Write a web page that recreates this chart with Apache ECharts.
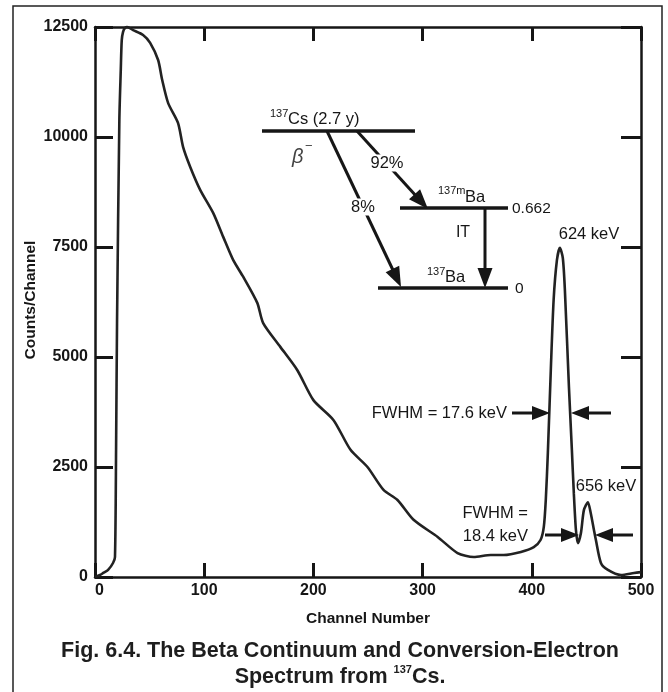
<!DOCTYPE html>
<html><head><meta charset="utf-8">
<script src="https://cdn.jsdelivr.net/npm/echarts@6/dist/echarts.min.js"></script>
<style>html,body{margin:0;padding:0;background:#fff}#c{width:668px;height:692px}</style>
</head><body><div id="c"></div>
<script>
// ---- data ----
const channel = [0,4.6,8,12,16.5,18.3,19.3,20.2,22.3,23.6,24.5,25.7,27.5,29.4,34.9,44,50.5,57.8,61.5,67,76,80.7,87.2,96.3,108.3,117.4,126.6,135.8,148.6,154,169.7,185.3,200,218.3,234,249.5,264.2,277,291.7,313.8,332,346.8,362.4,374.3,390,401.8,408,411,412.8,414.7,417.4,420,423,425.7,428.4,430.3,434,436.7,438.5,440.4,442.2,445,447.7,451.4,454,456.9,458.7,463.3,469.7,481.7,493.6,500];
const counts = [0,45,100,160,318,455,2890,5840,10390,11520,12200,12390,12480,12500,12430,12320,12140,11750,11300,10770,10320,9770,9320,8800,8270,7730,7200,6820,6230,5770,5230,4700,4020,3570,2890,2500,1980,1750,1300,910,545,455,500,500,570,680,840,1140,1750,2820,4700,6300,7200,7480,7250,6520,4320,2890,1900,1070,770,1000,1520,1700,1450,1070,840,320,160,45,90,110];
const xTicks = [0,100,200,300,400,500];
const yTicks = [0,2500,5000,7500,10000,12500];
const xTitle = 'Channel Number';
const yTitle = 'Counts/Channel';
const captionLine1 = 'Fig. 6.4. The Beta Continuum and Conversion-Electron';
const captionLine2 = ['Spectrum from ', '137', 'Cs.'];

const FONT = '"Liberation Sans", Arial, Helvetica, sans-serif';
const INK = '#161616';

const chart = echarts.init(document.getElementById('c'), null, {renderer:'canvas'});
const seriesData = channel.map((c,i)=>[c, counts[i]]);

const G = [];
function ln(x1,y1,x2,y2,w){ G.push({type:'line', shape:{x1:x1,y1:y1,x2:x2,y2:y2}, style:{stroke:INK, lineWidth:w||3}, z:100}); }
function arrow(x1,y1,x2,y2,w,hl,hw){
  hl = hl||18; hw = hw||14;
  const dx=x2-x1, dy=y2-y1, L=Math.hypot(dx,dy), ux=dx/L, uy=dy/L;
  const bx=x2-ux*hl, by=y2-uy*hl, nx=-uy, ny=ux;
  ln(x1,y1,bx+ux*2,by+uy*2,w||3);
  G.push({type:'polygon', shape:{points:[[x2,y2],[bx+nx*hw/2,by+ny*hw/2],[bx-nx*hw/2,by-ny*hw/2]]}, style:{fill:INK}, z:100});
}
function tx(t,x,y,size,o){
  o=o||{};
  G.push({type:'text', x:x, y:y, z:o.z||110, rotation:o.rot||0,
    style:{text:t, fontSize:size, fontFamily:FONT, fontWeight:o.w||'normal', fontStyle:o.it||'normal',
      fill:o.c||INK, align:o.a||'left', verticalAlign:o.va||'middle', textAlign:o.a||'left', textVerticalAlign:o.va||'middle',
      backgroundColor:o.bg, padding:o.pad, rich:o.rich}});
}

// outer frame
G.push({type:'rect', shape:{x:13,y:6,width:649,height:700}, style:{fill:'none', stroke:'#222', lineWidth:1.5}, z:1});

// decay scheme
ln(262,131,415,131,3.5);
ln(400,208,508,208,3.5);
ln(378,288,508,288,3.5);
arrow(327,131,401,287,3,20,15);
arrow(357,131,428,209,3,20,15);
arrow(485,208,485,288,3,20,15);
tx('137',270,114,11);
tx('Cs (2.7 y)',288,119,16.5);
tx('\u03b2',292,157,20,{it:'italic', c:'#444'});
tx('\u2212',305,146,13,{c:'#444'});
tx('92%',387,163,16.5,{a:'center', bg:'#fff', pad:[0,1]});
tx('8%',363,207,16.5,{a:'center', bg:'#fff', pad:[0,1]});
tx('137m',438,191,11);
tx('Ba',465,197,16.5);
tx('0.662',512,209,15.5);
tx('IT',463,233,16,{a:'center'});
tx('137',427,272,11);
tx('Ba',445,277,16.5);
tx('0',515,289,15.5);

// peak annotations
tx('624 keV',589,234,16.5,{a:'center'});
tx('656 keV',606,486,16.5,{a:'center'});
tx('FWHM = 17.6 keV',507,413,16.5,{a:'right'});
arrow(512,413,550,413,3,18,14);
arrow(611,413,571,413,3,18,14);
tx('FWHM =',528,513,16.5,{a:'right'});
tx('18.4 keV',528,536,16.5,{a:'right'});
arrow(545,535,579,535,3,18,14);
arrow(633,535,595,535,3,18,14);

// caption
tx(captionLine1,340,651,21.5,{a:'center', w:'bold', c:'#1e1e1e'});
tx('{m|'+captionLine2[0]+'}{s|'+captionLine2[1]+'}{m|'+captionLine2[2]+'}',340,677,21.5,{a:'center', w:'bold', c:'#1e1e1e',
  rich:{m:{fontSize:21.5, fontWeight:'bold', fontFamily:FONT, fill:'#1e1e1e', lineHeight:26},
        s:{fontSize:11, fontWeight:'bold', fontFamily:FONT, fill:'#1e1e1e', lineHeight:16, verticalAlign:'top'}}});

// axis titles
tx(yTitle,31,300,15.5,{a:'center', w:'bold', rot:Math.PI/2});

const axisCommon = {
  min:0, axisLine:{show:true, onZero:false, lineStyle:{color:INK, width:2.5}},
  splitLine:{show:false}, axisLabel:{show:false}
};
chart.setOption({
  animation:false,
  backgroundColor:'#fff',
  grid:{left:95, right:27, top:27, bottom:115, containLabel:false},
  xAxis:[
    Object.assign({}, axisCommon, {type:'value', position:'bottom', max:500, interval:100,
      axisTick:{show:true, inside:true, length:14, lineStyle:{color:INK, width:3}},
      axisLabel:{show:true, color:INK, fontSize:16, fontWeight:'bold', fontFamily:FONT, margin:6,
        alignMinLabel:'left', formatter:v=> xTicks.indexOf(v)>=0 ? String(v) : ''},
      name:xTitle, nameLocation:'middle', nameGap:34,
      nameTextStyle:{color:INK, fontSize:15.5, fontWeight:'bold', fontFamily:FONT}}),
    Object.assign({}, axisCommon, {type:'value', position:'top', max:500, interval:100,
      axisTick:{show:true, inside:true, length:14, lineStyle:{color:INK, width:3}}})
  ],
  yAxis:[
    Object.assign({}, axisCommon, {type:'value', position:'left', max:12500, interval:2500,
      axisTick:{show:true, inside:true, length:18, lineStyle:{color:INK, width:3}},
      axisLabel:{show:true, color:INK, fontSize:16, fontWeight:'bold', fontFamily:FONT, margin:7,
        formatter:v=> yTicks.indexOf(v)>=0 ? String(v) : ''}}),
    Object.assign({}, axisCommon, {type:'value', position:'right', max:12500, interval:2500,
      axisTick:{show:true, inside:true, length:20, lineStyle:{color:INK, width:3}}})
  ],
  series:[{
    type:'line', data:seriesData, xAxisIndex:0, yAxisIndex:0,
    showSymbol:false, smooth:0.25, clip:false,
    lineStyle:{color:'#222', width:2.6}
  }],
  graphic:G
});
</script></body></html>
